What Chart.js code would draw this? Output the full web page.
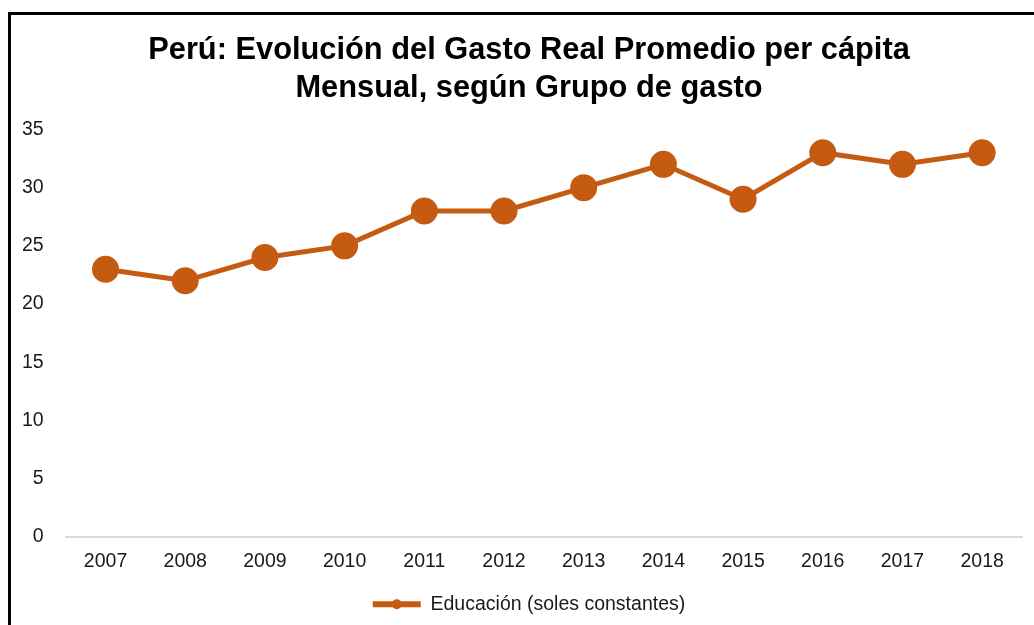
<!DOCTYPE html>
<html>
<head>
<meta charset="utf-8">
<script src="https://cdn.jsdelivr.net/npm/chart.js@4.4.0/dist/chart.umd.min.js"></script>
<style>
    body { margin: 0; background: #fff; overflow: hidden; }
    #wrap { position: relative; width: 1034px; height: 625px; overflow: hidden; }
    #frame {
        position: absolute; left: 8px; top: 12px; width: 1100px; height: 700px;
        border-left: 3px solid #000; border-top: 3px solid #000; pointer-events: none;
    }
</style>
</head>
<body>
<div id="wrap">
    <canvas id="myChart" width="1060" height="625"></canvas>
    <div id="frame"></div>
</div>
<script>
const years = ['2007', '2008', '2009', '2010', '2011', '2012', '2013', '2014', '2015', '2016', '2017', '2018'];
const educacion = [23, 22, 24, 25, 28, 28, 30, 32, 29, 33, 32, 33];
const seriesLabel = 'Educación (soles constantes)';
const chartTitle = ['Perú: Evolución del Gasto Real Promedio per cápita', 'Mensual, según Grupo de gasto'];

const orange = '#C55A11';
Chart.defaults.font.family = '"Liberation Sans", Arial, sans-serif';
Chart.defaults.color = '#1a1a1a';

// legend marker: line with a dot in the middle, like Excel
const legendDot = {
    id: 'legendDot',
    afterDraw(chart) {
        const box = chart.legend.legendHitBoxes[0];
        if (!box) return;
        const bw = chart.legend.options.labels.boxWidth;
        const ctx = chart.ctx;
        ctx.save();
        ctx.fillStyle = orange;
        ctx.beginPath();
        ctx.arc(box.left + bw / 2, box.top + box.height / 2, 5, 0, Math.PI * 2);
        ctx.fill();
        ctx.restore();
    }
};

const ctx = document.getElementById('myChart').getContext('2d');
new Chart(ctx, {
    type: 'line',
    data: {
        labels: years,
        datasets: [
            {
                label: seriesLabel,
                data: educacion,
                borderColor: orange,
                backgroundColor: orange,
                borderWidth: 5,
                pointRadius: 11,
                pointHoverRadius: 11,
                pointBackgroundColor: orange,
                pointBorderColor: orange,
                tension: 0
            }
        ]
    },
    options: {
        responsive: false,
        animation: false,
        layout: { padding: { left: 8, right: 10, bottom: 1 } },
        plugins: {
            title: {
                display: true,
                text: chartTitle,
                color: '#000',
                font: { size: 30.8, weight: 'bold', lineHeight: 1.24 },
                padding: { top: 31, bottom: 22 }
            },
            legend: {
                position: 'bottom',
                labels: {
                    boxWidth: 48,
                    boxHeight: 6,
                    font: { size: 19.5 },
                    color: '#1a1a1a',
                    padding: 11,
                    generateLabels: function (chart) {
                        return Chart.defaults.plugins.legend.labels.generateLabels(chart)
                            .map(l => Object.assign(l, { lineWidth: 0 }));
                    }
                }
            },
            tooltip: { enabled: false }
        },
        scales: {
            y: {
                min: 0,
                max: 35,
                ticks: { stepSize: 5, font: { size: 19.5 }, padding: 14 },
                grid: { display: false },
                border: { display: false }
            },
            // empty right axis, only keeps space so the title sits like the original
            y1: {
                position: 'right',
                grid: { display: false },
                border: { display: false },
                ticks: { display: false },
                afterFit: function (scale) {
                    scale.width = 28;
                }
            },
            x: {
                offset: true,
                ticks: { font: { size: 19.5 }, padding: 5 },
                grid: { display: false },
                border: { color: '#d9d9d9', width: 2 },
                afterFit: function (scale) {
                    scale.height += 5;
                }
            }
        }
    },
    plugins: [legendDot]
});
</script>
</body>
</html>
